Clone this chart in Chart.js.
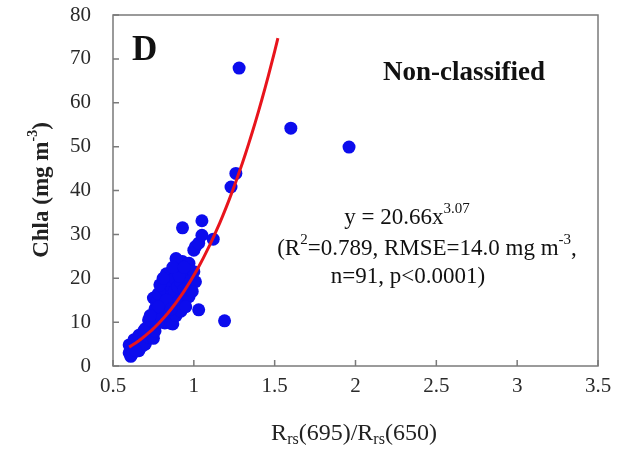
<!DOCTYPE html>
<html>
<head>
<meta charset="utf-8">
<script src="https://cdn.jsdelivr.net/npm/chart.js@4/dist/chart.umd.min.js"></script>
<style>
  html, body { margin: 0; padding: 0; background: #fff; }
  #wrap { width: 617px; height: 450px; }
</style>
</head>
<body>
<div id="wrap"><canvas id="c" width="617" height="450"></canvas></div>
<script>
// Band ratio Rrs(695)/Rrs(650) and measured Chla (mg m^-3)
const ratioX = [
  0.60,0.61,0.62,0.60,0.63,0.64,0.62,0.65,0.66,0.63,
  0.67,0.68,0.66,0.69,0.70,0.71,0.72,0.70,0.73,0.74,
  0.75,0.76,0.74,0.75,0.76,0.77,0.78,0.75,0.77,0.79,
  0.80,0.80,0.78,0.81,0.82,0.83,0.82,0.84,0.85,0.86,
  0.87,0.85,0.86,0.84,0.87,0.88,0.88,0.89,0.90,0.90,
  0.91,0.92,0.93,0.93,0.94,0.95,0.96,0.97,0.97,0.98,
  1.00,1.01,1.01,1.00,1.03,1.03,1.05,1.05,1.12,1.19,
  1.23,1.26,1.28,1.60,1.96,0.72,0.79,0.81,0.92,0.95,
  0.89,0.69,0.83,0.91,0.87,0.64,0.99,0.94,0.86,0.78,
  0.73
];
const chlaY = [
  3.0,2.2,4.0,4.8,3.2,5.0,2.8,4.2,3.5,6.0,
  5.5,4.5,7.0,6.2,5.0,7.5,6.5,8.5,9.0,7.0,
  6.3,8.0,10.5,11.6,13.0,9.5,10.0,15.5,14.5,12.0,
  11.0,15.0,16.5,13.5,17.5,21.0,9.8,10.0,12.5,9.7,
  9.6,18.5,16.0,19.5,14.0,17.0,20.0,11.5,18.0,22.0,
  15.0,19.0,23.8,31.5,17.5,21.0,16.0,23.4,15.8,19.5,
  21.5,19.2,27.2,26.4,12.8,28.0,29.8,33.1,28.9,10.3,
  40.8,43.9,67.9,54.2,49.9,10.5,18.5,20.0,12.5,13.5,
  24.5,8.0,15.0,20.5,22.5,3.5,17.0,22.5,13.0,13.5,
  11.5
];

// Power-law fit y = a * x^b, as stated in the annotation
const FIT_A = 20.66;
const FIT_B = 3.07;
const FIT_RANGE = [0.60, 1.52];

const xTicks = [0.5, 1, 1.5, 2, 2.5, 3, 3.5];
const yTicks = [0, 10, 20, 30, 40, 50, 60, 70, 80];

const points = ratioX.map((x, i) => ({ x: x, y: chlaY[i] }));
const fitLine = [];
for (let x = FIT_RANGE[0]; x <= FIT_RANGE[1] + 1e-9; x += 0.02) {
  fitLine.push({ x: x, y: FIT_A * Math.pow(x, FIT_B) });
}

const SERIF = '"Liberation Serif", "Times New Roman", serif';

// Draws a sequence of text runs; each run may be raised or lowered
function drawRuns(ctx, runs, cx, cy, align) {
  let total = 0;
  runs.forEach(r => { ctx.font = r.font; r.w = ctx.measureText(r.t).width; total += r.w; });
  let x = align === 'center' ? cx - total / 2 : cx;
  ctx.textBaseline = 'middle';
  ctx.textAlign = 'left';
  runs.forEach(r => {
    ctx.font = r.font;
    ctx.fillText(r.t, x, cy + (r.dy || 0));
    x += r.w;
  });
}

const decor = {
  id: 'decor',
  afterDatasetsDraw(chart) {
    const ctx = chart.ctx;
    const a = chart.chartArea;
    const xs = chart.scales.x, ys = chart.scales.y;
    ctx.save();
    // frame
    ctx.strokeStyle = '#7a7a7a';
    ctx.lineWidth = 1.5;
    ctx.strokeRect(a.left, a.top, a.right - a.left, a.bottom - a.top);
    // inward tick marks
    ctx.beginPath();
    xTicks.forEach(v => {
      const px = xs.getPixelForValue(v);
      ctx.moveTo(px, a.bottom); ctx.lineTo(px, a.bottom - 6);
    });
    yTicks.forEach(v => {
      const py = ys.getPixelForValue(v);
      ctx.moveTo(a.left, py); ctx.lineTo(a.left + 6, py);
    });
    ctx.stroke();

    ctx.fillStyle = '#111';
    // panel letter
    ctx.font = 'bold 35px ' + SERIF;
    ctx.textAlign = 'left';
    ctx.textBaseline = 'middle';
    ctx.fillText('D', 132, 51);
    // group label
    ctx.font = 'bold 27px ' + SERIF;
    ctx.fillText('Non-classified', 383, 73);

    // regression annotation
    const f = '23px ' + SERIF, fs = '15px ' + SERIF;
    drawRuns(ctx, [
      { t: 'y = 20.66x', font: f },
      { t: '3.07', font: fs, dy: -9 }
    ], 407, 218, 'center');
    drawRuns(ctx, [
      { t: '(R', font: f },
      { t: '2', font: fs, dy: -9 },
      { t: '=0.789, RMSE=14.0 mg m', font: f },
      { t: '-3', font: fs, dy: -9 },
      { t: ',', font: f }
    ], 427, 249, 'center');
    drawRuns(ctx, [
      { t: 'n=91, p<0.0001)', font: f }
    ], 408, 277, 'center');

    // x axis title
    ctx.fillStyle = '#222';
    drawRuns(ctx, [
      { t: 'R', font: '24px ' + SERIF },
      { t: 'rs', font: '16px ' + SERIF, dy: 6 },
      { t: '(695)/R', font: '24px ' + SERIF },
      { t: 'rs', font: '16px ' + SERIF, dy: 6 },
      { t: '(650)', font: '24px ' + SERIF }
    ], 354, 434, 'center');

    // y axis title (rotated)
    ctx.translate(42, 190);
    ctx.rotate(-Math.PI / 2);
    drawRuns(ctx, [
      { t: 'Chla (mg m', font: 'bold 23px ' + SERIF },
      { t: '-3', font: 'bold 14px ' + SERIF, dy: -9 },
      { t: ')', font: 'bold 23px ' + SERIF }
    ], 0, 0, 'center');
    ctx.restore();
  }
};

new Chart(document.getElementById('c'), {
  type: 'scatter',
  data: {
    datasets: [
      {
        type: 'line',
        data: fitLine,
        borderColor: '#e8141c',
        borderWidth: 3,
        pointRadius: 0,
        fill: false,
        tension: 0,
        order: 0
      },
      {
        data: points,
        backgroundColor: '#0c0ced',
        borderWidth: 0,
        pointRadius: 6.5,
        pointHoverRadius: 6.5,
        order: 1
      }
    ]
  },
  options: {
    responsive: false,
    animation: false,
    events: [],
    layout: { padding: { top: 15, right: 19, left: 0, bottom: 0 } },
    plugins: { legend: { display: false }, tooltip: { enabled: false } },
    scales: {
      x: {
        type: 'linear',
        min: 0.5, max: 3.5,
        afterBuildTicks: s => { s.ticks = xTicks.map(v => ({ value: v })); },
        afterFit: s => { s.height = 84; s.paddingLeft = 0; s.paddingRight = 0; },
        grid: { display: false, drawTicks: false },
        border: { display: false },
        ticks: {
          padding: 8,
          color: '#2a2a2a',
          font: { family: SERIF, size: 21 },
          maxRotation: 0,
          callback: v => String(v)
        }
      },
      y: {
        min: 0, max: 80,
        afterBuildTicks: s => { s.ticks = yTicks.map(v => ({ value: v })); },
        afterFit: s => { s.width = 113; s.paddingTop = 0; s.paddingBottom = 0; },
        grid: { display: false, drawTicks: false },
        border: { display: false },
        ticks: {
          padding: 22,
          color: '#2a2a2a',
          font: { family: SERIF, size: 21 },
          callback: v => String(v)
        }
      }
    }
  },
  plugins: [decor]
});
</script>
</body>
</html>
